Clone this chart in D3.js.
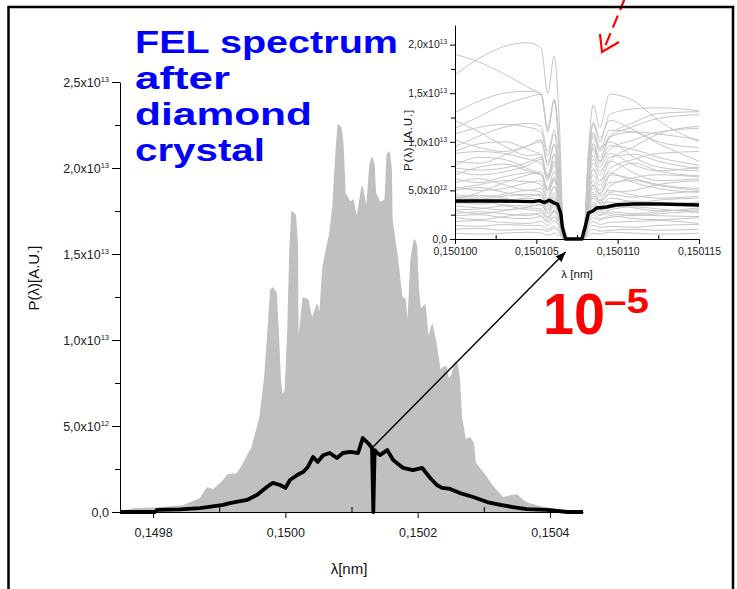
<!DOCTYPE html>
<html><head><meta charset="utf-8">
<script src="https://cdn.jsdelivr.net/npm/d3@7"></script>
<style>
body{margin:0;background:#fff;overflow:hidden}
#wrap{position:relative;width:737px;height:589px}
#title{position:absolute;left:135px;top:24px;font-family:'Liberation Sans',Arial,sans-serif;font-weight:700;font-size:31.8px;line-height:36px;color:#0000ff;white-space:nowrap}
#title span{display:block;height:36px;line-height:36px;transform-origin:0 0;width:max-content}
</style>
</head><body>
<div id="wrap">
<svg id="c" width="737" height="589" xmlns="http://www.w3.org/2000/svg"></svg>
<div id="title"></div>
</div>
<script>
// ---------------- DATA ----------------
// main chart (power in units of 1e12 A.U.)
const mainXTicks = [0.1498, 0.1500, 0.1502, 0.1504];
const mainXTickLabels = ["0,1498", "0,1500", "0,1502", "0,1504"];
const mainXMinor = [0.1499, 0.1501, 0.1503];
const mainYTicks = [0, 5, 10, 15, 20, 25];
const mainYTickLabels = [["0,0", ""], ["5,0x10", "12"], ["1,0x10", "13"], ["1,5x10", "13"], ["2,0x10", "13"], ["2,5x10", "13"]];
const mainYMinor = [2.5, 7.5, 12.5, 17.5, 22.5];

// upper envelope of the single-shot spectra (grey)
const envLambda = [0.149750,0.149770,0.149810,0.149845,0.149871,0.149882,0.149891,0.149906,0.149913,0.149927,
  0.149934,0.149950,0.149962,0.149969,0.149974,0.149978,0.149981,0.149986,0.149989,0.149992,
  0.149995,0.150000,0.150004,0.150007,0.150010,0.150015,0.150018,0.150019,0.150022,0.150027,
  0.150034,0.150040,0.150048,0.150052,0.150057,0.150063,0.150067,0.150072,0.150077,0.150080,
  0.150084,0.150087,0.150090,0.150098,0.150102,0.150108,0.150116,0.150123,0.150128,0.150131,
  0.150134,0.150136,0.150143,0.150151,0.150154,0.150157,0.150160,0.150161,0.150169,0.150176,
  0.150181,0.150185,0.150190,0.150195,0.150198,0.150201,0.150204,0.150211,0.150216,0.150222,
  0.150228,0.150234,0.150238,0.150243,0.150247,0.150252,0.150257,0.150260,0.150263,0.150266,
  0.150272,0.150279,0.150284,0.150287,0.150299,0.150314,0.150329,0.150340,0.150350,0.150358,
  0.150365,0.150385,0.150415,0.150445];
const envPower = [0,0.17,0.23,0.35,0.76,1.40,1.28,1.80,2.15,2.21,
  2.62,3.78,5.52,7.85,10.58,12.91,13.02,12.73,10.58,7.85,
  6.69,7.09,10.58,15.23,17.44,17.27,15.52,9.59,10.58,12.44,
  12.33,11.16,12.03,11.34,14.24,15.41,16.10,17.73,21.05,22.50,
  22.33,21.34,18.55,17.97,18.14,16.98,18.90,17.56,20.17,20.58,
  20.17,18.55,17.97,18.14,20.76,20.93,19.88,16.98,14.83,12.50,
  12.33,10.58,14.65,15.81,15.52,12.91,11.74,12.03,10.00,10.87,
  9.71,8.14,8.37,8.43,7.67,7.97,8.72,8.55,7.67,5.52,
  4.19,4.30,4.01,2.85,2.27,1.45,0.81,0.93,0.99,0.70,
  0.52,0.29,0.12,0];

// average spectrum (black)
const meanLambda = [0.149750,0.149803,0.149806,0.149841,0.149871,0.149906,0.149916,0.149942,0.149957,0.149972,
  0.149981,0.149992,0.150000,0.150007,0.150018,0.150027,0.150034,0.150042,0.150049,0.150057,
  0.150067,0.150078,0.150087,0.150098,0.150110,0.150117,0.150125,0.150131,0.150133,0.150135,
  0.150139,0.150143,0.150154,0.150163,0.150178,0.150193,0.150207,0.150219,0.150229,0.150237,
  0.150249,0.150264,0.150284,0.150305,0.150325,0.150344,0.150365,0.150396,0.150426,0.150450];
const meanPower = [0,0,0.12,0.15,0.23,0.41,0.52,0.70,0.99,1.45,
  1.69,1.57,1.40,1.86,2.15,2.33,2.62,3.20,2.91,3.30,
  3.43,3.14,3.43,3.49,3.43,4.30,4.01,3.72,0,3.60,
  3.43,3.31,3.60,3.02,2.56,2.44,2.56,1.98,1.57,1.40,
  1.34,1.10,0.87,0.58,0.41,0.29,0.17,0.12,0,0];

// inset (zoom around the diamond notch)
const insetXTicks = [0.150100, 0.150105, 0.150110, 0.150115];
const insetXTickLabels = ["0,150100", "0,150105", "0,150110", "0,150115"];
const insetXMinor = [0.1501025, 0.1501075, 0.1501125];
const insetYTicks = [0, 5, 10, 15, 20];
const insetYTickLabels = [["0,0", ""], ["5,0x10", "12"], ["1,0x10", "13"], ["1,5x10", "13"], ["2,0x10", "13"]];
const insetYMinor = [2.5, 7.5, 12.5, 17.5];

const insetKnots = [0.150100, 0.1501015, 0.150103, 0.1501045, 0.1501053, 0.1501057, 0.1501061, 0.1501064,
  0.1501067, 0.1501079, 0.1501082, 0.1501085, 0.1501089, 0.1501095, 0.150111, 0.1501125, 0.150115];
const insetShots = [
  [19.0,18.2,17.0,15.6, 14.8,11.5,14.2,9.0, 0,0, 6.0,9.8,8.0, 10.5,11.0,10.8,10.2],
  [16.9,18.6,19.8,20.2, 19.6,15.0,18.8,12.5, 0,0, 8.0,11.8,10.0, 12.8,13.4,13.5,13.2],
  [11.4,12.6,13.8,14.6, 14.9,11.0,14.2,10.0, 0,0, 9.0,13.8,11.5, 14.9,14.2,12.2,10.0],
  [10.8,11.5,11.8,11.5, 11.0,8.5,10.8,7.0, 0,0, 8.5,12.0,10.4, 12.2,11.2,10.0,9.4],
  [9.5,10.6,11.5,11.9, 11.6,9.0,11.2,7.5, 0,0, 5.0,7.2,6.0, 8.0,9.5,10.8,11.6],
  [8.8,9.0,8.8,8.2, 7.8,6.0,7.6,5.0, 0,0, 7.5,10.8,9.2, 11.2,11.0,9.8,8.0],
  [8.0,7.8,8.6,9.6, 10.2,7.8,9.8,6.5, 0,0, 4.5,6.6,5.5, 7.2,8.2,8.8,9.0],
  [7.6,8.4,8.2,7.2, 6.6,5.0,6.2,4.0, 0,0, 6.5,9.2,7.8, 9.6,9.2,8.4,7.6],
  [7.0,6.6,6.9,7.6, 8.2,6.2,8.6,5.5, 0,0, 4.0,5.6,4.6, 6.5,7.8,7.0,6.5],
  [6.6,7.4,7.7,7.0, 6.6,5.0,6.2,4.0, 0,0, 6.0,8.2,7.0, 8.0,6.8,6.0,6.2],
  [6.2,5.8,6.4,6.8, 6.6,5.0,6.4,4.2, 0,0, 4.4,6.0,5.0, 6.6,6.2,5.6,5.2],
  [5.8,6.2,5.6,5.0, 5.2,4.0,5.4,3.6, 0,0, 3.6,4.8,4.0, 5.4,6.3,6.6,6.4],
  [5.4,5.0,5.2,5.8, 6.0,4.6,6.0,4.0, 0,0, 5.2,7.2,6.0, 6.8,5.8,5.2,4.8],
  [5.0,5.3,4.8,4.4, 4.6,3.5,4.8,3.2, 0,0, 3.0,4.2,3.6, 4.8,5.0,5.6,6.0],
  [4.6,4.3,4.6,5.0, 4.8,3.6,4.4,3.0, 0,0, 3.8,5.2,4.4, 5.0,4.5,4.2,4.4],
  [4.2,4.5,4.2,3.8, 3.9,3.0,4.0,2.6, 0,0, 2.8,3.8,3.2, 4.2,3.8,3.6,3.8],
  [3.8,3.6,3.9,4.2, 3.9,3.0,3.6,2.4, 0,0, 2.5,3.4,2.9, 3.2,3.6,4.0,4.2],
  [3.4,3.2,3.0,3.3, 3.6,2.7,3.8,2.5, 0,0, 3.2,4.4,3.7, 3.8,3.2,2.9,3.0],
  [3.0,3.1,3.4,3.0, 2.9,2.2,2.8,1.9, 0,0, 2.0,2.8,2.4, 3.0,3.3,3.1,2.7],
  [2.6,2.8,2.6,2.4, 2.7,2.0,2.9,1.9, 0,0, 2.2,3.0,2.5, 2.6,2.4,2.6,2.9],
  [2.2,2.0,2.3,2.6, 2.4,1.8,2.2,1.5, 0,0, 1.6,2.2,1.9, 2.4,2.1,2.0,2.2],
  [1.8,1.9,1.7,1.6, 1.8,1.4,1.9,1.2, 0,0, 1.3,1.8,1.5, 1.7,1.8,1.9,1.6],
  [1.4,1.3,1.5,1.4, 1.4,1.0,1.3,0.9, 0,0, 1.0,1.4,1.2, 1.3,1.2,1.4,1.5],
  [1.0,1.1,0.9,1.0, 1.0,0.8,1.1,0.7, 0,0, 0.7,1.0,0.8, 0.9,1.0,0.9,1.0],
  [0.6,0.5,0.6,0.7, 0.6,0.4,0.6,0.4, 0,0, 0.4,0.6,0.5, 0.7,0.6,0.5,0.6],
  [12.2,11.0,9.6,8.6, 8.7,6.5,8.8,5.8, 0,0, 7.0,9.8,8.4, 10.4,11.6,12.4,12.8],
  [9.0,9.8,10.0,9.2, 8.6,6.5,8.0,5.4, 0,0, 8.0,11.0,9.4, 10.0,8.4,7.4,7.0],
  [4.0,4.8,5.8,6.6, 6.9,5.2,7.0,4.6, 0,0, 6.2,8.6,7.4, 8.8,7.6,7.0,7.4],
  [3.6,3.9,3.5,3.4, 3.5,2.6,3.4,2.3, 0,0, 2.6,3.6,3.0, 3.5,3.9,3.7,3.4],
  [2.9,2.6,2.9,3.2, 3.1,2.3,3.0,2.0, 0,0, 2.3,3.2,2.7, 2.8,2.6,2.8,3.2],
  [2.4,2.5,2.2,2.1, 2.3,1.7,2.4,1.6, 0,0, 1.8,2.5,2.1, 2.2,2.5,2.4,2.3],
  [4.4,4.1,4.4,4.6, 4.4,3.3,4.2,2.8, 0,0, 3.4,4.6,3.9, 4.6,4.3,4.6,4.9],
  [7.3,7.1,7.3,7.9, 8.4,6.3,8.0,5.3, 0,0, 5.6,7.8,6.6, 8.4,8.7,8.0,7.2],
  [10.2,9.4,9.0,9.6, 10.0,7.5,9.6,6.4, 0,0, 6.8,9.4,8.0, 9.2,10.2,11.0,11.4],
  [13.0,14.2,15.0,15.2, 15.0,11.2,14.4,9.6, 0,0, 7.6,10.5,9.0, 10.6,12.0,12.9,13.1],
  [5.2,5.6,6.0,5.9, 5.6,4.2,5.4,3.6, 0,0, 4.0,5.5,4.7, 5.8,6.0,5.5,5.0]
];
const insetMeanLambda = [0.150100,0.1501028,0.1501048,0.1501052,0.1501055,0.1501058,0.1501061,0.1501063,0.1501065,0.1501066,
  0.1501068,0.1501078,0.1501080,0.1501082,0.1501085,0.1501087,0.1501093,0.1501099,0.1501109,0.1501126,0.150115];
const insetMeanPower = [3.91,3.91,3.84,3.95,3.75,3.98,3.70,3.60,2.67,1.23,
  0,0,1.23,2.67,2.90,3.19,3.29,3.50,3.60,3.60,3.50];

const titleLines = ["FEL spectrum", "after", "diamond", "crystal"];

// ---------------- DRAWING ----------------
const svg = d3.select("#c");
const tickFont = "'Liberation Sans', Arial, sans-serif";

// main scales
const x = d3.scaleLinear().domain([0.14975, 0.15045]).range([120, 583]);
const y = d3.scaleLinear().domain([0, 25]).range([512, 82]);

// grey envelope
const env = envLambda.map((l, i) => [l, envPower[i]]);
svg.append("path").datum(env)
  .attr("d", d3.area().x(d => x(d[0])).y0(y(0)).y1(d => y(d[1])))
  .attr("fill", "#c0c0c0").attr("stroke", "#c0c0c0").attr("stroke-width", 1.5)
  .attr("stroke-linejoin", "round");

function supLabels(g, labels, supSize, dyUp) {
  g.selectAll(".tick text").each(function (d, i) {
    const t = d3.select(this);
    t.text(null);
    t.append("tspan").text(labels[i][0]);
    if (labels[i][1]) t.append("tspan").attr("font-size", supSize).attr("dy", dyUp).text(labels[i][1]);
  });
}

// main axes
const gx = svg.append("g").attr("transform", "translate(0,512)")
  .call(d3.axisBottom(x).tickValues(mainXTicks).tickSize(6).tickSizeOuter(0).tickPadding(10)
    .tickFormat((d, i) => mainXTickLabels[i]));
gx.selectAll("text").attr("font-family", tickFont).attr("font-size", 12.5).attr("fill", "#222");
const gxm = svg.append("g").attr("transform", "translate(0,512)")
  .call(d3.axisBottom(x).tickValues(mainXMinor).tickSize(-5).tickFormat(""));
gxm.select(".domain").remove();

const gy = svg.append("g").attr("transform", "translate(120,0)")
  .call(d3.axisLeft(y).tickValues(mainYTicks).tickSize(8).tickSizeOuter(0).tickPadding(3));
gy.selectAll("text").attr("font-family", tickFont).attr("font-size", 12.5).attr("fill", "#222");
supLabels(gy, mainYTickLabels, 7.5, -5);
const gym = svg.append("g").attr("transform", "translate(120,0)")
  .call(d3.axisLeft(y).tickValues(mainYMinor).tickSize(5).tickFormat(""));
gym.select(".domain").remove();

// mean black line
const mean = meanLambda.map((l, i) => [l, meanPower[i]]);
svg.append("path").datum(mean)
  .attr("d", d3.line().x(d => x(d[0])).y(d => y(d[1])))
  .attr("fill", "none").attr("stroke", "#000").attr("stroke-width", 3.8).attr("stroke-linejoin", "round");

// axis titles
svg.append("text").attr("x", 349).attr("y", 574).attr("text-anchor", "middle")
  .attr("font-family", tickFont).attr("font-size", 15).attr("fill", "#111").text("λ[nm]");
svg.append("text").attr("transform", "translate(39,278) rotate(-90)").attr("text-anchor", "middle")
  .attr("font-family", tickFont).attr("font-size", 15).attr("fill", "#111").text("P(λ)[A.U.]");

// ---------------- INSET ----------------
const xi = d3.scaleLinear().domain([0.150100, 0.150115]).range([455, 699]);
const yi = d3.scaleLinear().domain([0, 22]).range([239, 239 - 22 * 9.72]);

const shotLine = d3.line().x(d => xi(d[0])).y(d => yi(Math.max(0, d[1]))).curve(d3.curveMonotoneX);
svg.append("g").selectAll("path").data(insetShots).join("path")
  .attr("d", s => shotLine(insetKnots.map((k, i) => [k, s[i]])))
  .attr("fill", "none").attr("stroke", "#c6c6c6").attr("stroke-width", 1);

const gxi = svg.append("g").attr("transform", "translate(0,239)")
  .call(d3.axisBottom(xi).tickValues(insetXTicks).tickSize(5).tickSizeOuter(0).tickPadding(3.5)
    .tickFormat((d, i) => insetXTickLabels[i]));
gxi.selectAll("text").attr("font-family", tickFont).attr("font-size", 10.5).attr("fill", "#222");
const gxim = svg.append("g").attr("transform", "translate(0,239)")
  .call(d3.axisBottom(xi).tickValues(insetXMinor).tickSize(-4).tickFormat(""));
gxim.select(".domain").remove();

const gyi = svg.append("g").attr("transform", "translate(455,0)")
  .call(d3.axisLeft(yi).tickValues(insetYTicks).tickSize(5).tickSizeOuter(0).tickPadding(3));
gyi.selectAll("text").attr("font-family", tickFont).attr("font-size", 10.5).attr("fill", "#222");
supLabels(gyi, insetYTickLabels, 6.5, -4);
const gyim = svg.append("g").attr("transform", "translate(455,0)")
  .call(d3.axisLeft(yi).tickValues(insetYMinor).tickSize(4).tickFormat(""));
gyim.select(".domain").remove();

const imean = insetMeanLambda.map((l, i) => [l, insetMeanPower[i]]);
svg.append("path").datum(imean)
  .attr("d", d3.line().x(d => xi(d[0])).y(d => yi(d[1])))
  .attr("fill", "none").attr("stroke", "#000").attr("stroke-width", 3.4).attr("stroke-linejoin", "round");

svg.append("text").attr("x", 577).attr("y", 278).attr("text-anchor", "middle")
  .attr("font-family", tickFont).attr("font-size", 11.5).attr("fill", "#111").text("λ [nm]");
svg.append("text").attr("transform", "translate(412,140) rotate(-90)").attr("text-anchor", "middle")
  .attr("font-family", tickFont).attr("font-size", 11.5).attr("letter-spacing", 0.8).attr("fill", "#111").text("P(λ) [A.U.]");

// ---------------- ANNOTATIONS ----------------
const defs = svg.append("defs");
defs.append("marker").attr("id", "ah").attr("viewBox", "0 0 10 8").attr("refX", 10).attr("refY", 4)
  .attr("markerWidth", 11).attr("markerHeight", 8).attr("markerUnits", "userSpaceOnUse").attr("orient", "auto")
  .append("path").attr("d", "M0,0L10,4L0,8Z").attr("fill", "#000");

const notchIdx = meanPower.indexOf(0, 5);
svg.append("line")
  .attr("x1", x(meanLambda[notchIdx - 1])).attr("y1", y(meanPower[notchIdx - 1]))
  .attr("x2", xi(0.1501068)).attr("y2", 252)
  .attr("stroke", "#000").attr("stroke-width", 1.4).attr("marker-end", "url(#ah)");

// red dashed arrow
svg.append("line").attr("x1", 625).attr("y1", -2).attr("x2", 604).attr("y2", 49)
  .attr("stroke", "#ff0000").attr("stroke-width", 2.2).attr("stroke-dasharray", "13,6");
svg.append("polyline").attr("points", "600,34 602,52 619,42")
  .attr("fill", "none").attr("stroke", "#ff0000").attr("stroke-width", 2.2);

// 10^-5
svg.append("text").attr("x", 543).attr("y", 334).attr("textLength", 62).attr("lengthAdjust", "spacingAndGlyphs")
  .attr("font-family", "'Liberation Sans', Arial, sans-serif").attr("font-weight", 700)
  .attr("font-size", 57).attr("fill", "#ff0000").text("10");
svg.append("text").attr("x", 604).attr("y", 313).attr("textLength", 45).attr("lengthAdjust", "spacingAndGlyphs")
  .attr("font-family", "'Liberation Sans', Arial, sans-serif").attr("font-weight", 700)
  .attr("font-size", 35).attr("fill", "#ff0000").text("–5");

// frame
svg.append("path").attr("d", "M8.5,592V7H733V592").attr("fill", "none").attr("stroke", "#000").attr("stroke-width", 2.5);

// title: HTML block, one line per row, each row stretched to the reference width
const titleW = [263, 95, 177, 130];
const spans = d3.select("#title").selectAll("span").data(titleLines).join("span").text(d => d);
spans.each(function (d, i) {
  const w = this.getBoundingClientRect().width;
  d3.select(this).style("transform", `scaleX(${titleW[i] / w})`);
});
</script>
</body></html>
